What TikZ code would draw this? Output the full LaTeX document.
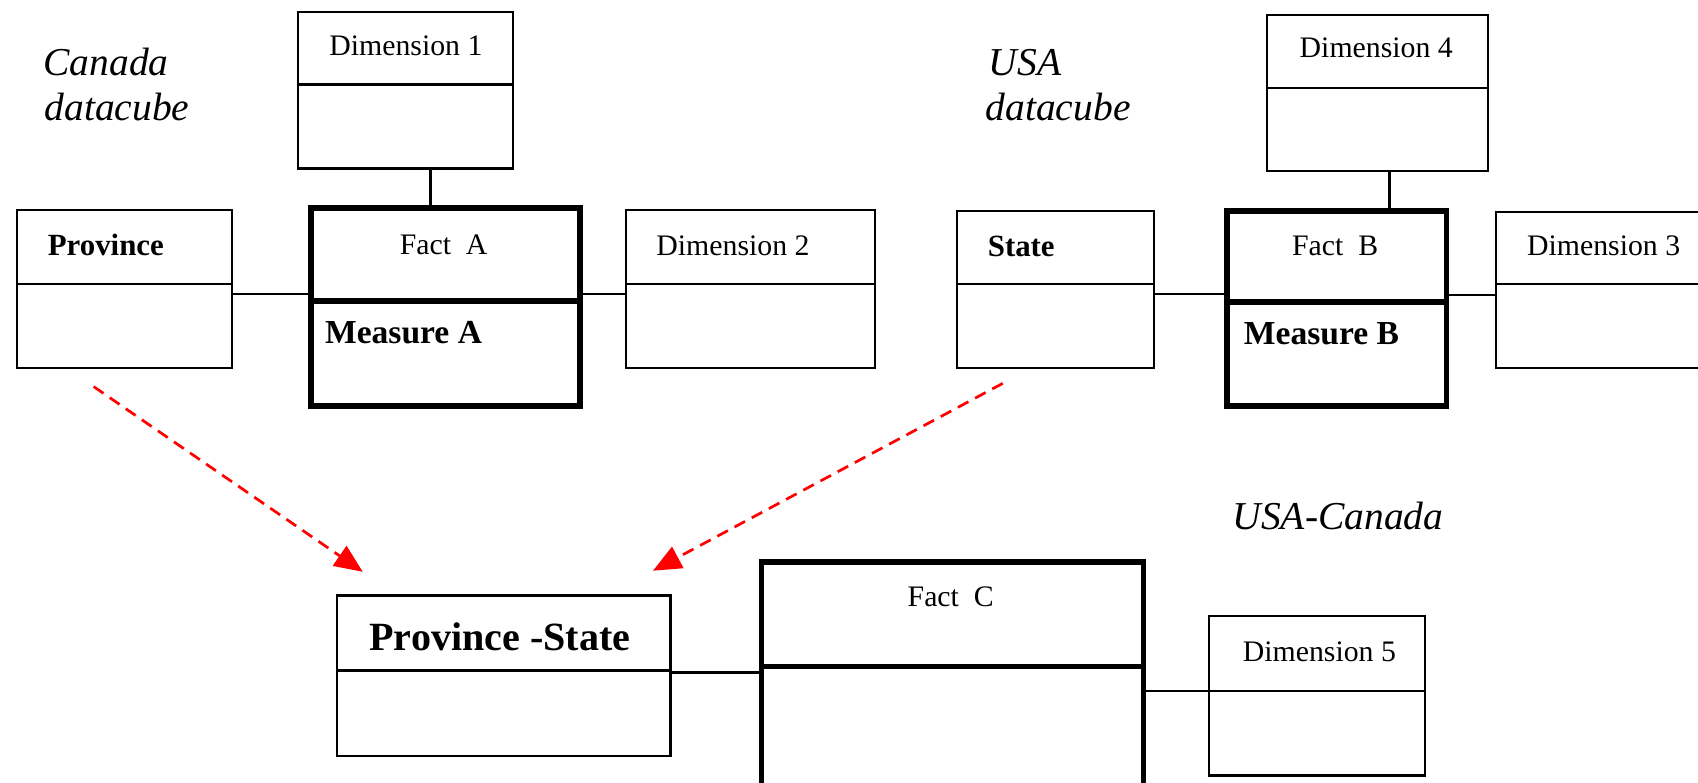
\documentclass[tikz,border=0pt]{standalone}
\usepackage{fontspec}
\setmainfont{Liberation Serif}
\usetikzlibrary{arrows.meta,calc}

\tikzset{
  thinline/.style={line width=2.2pt},
  thickline/.style={line width=5pt},
  tbl/.style={draw, outer sep=0pt, inner sep=0pt},
  lbl/.style={anchor=base west, inner sep=0pt, font=\fontsize{27.5}{33}\selectfont},
  keylbl/.style={anchor=base west, inner sep=0pt, font=\fontsize{28.5}{34}\selectfont\bfseries},
  measurelbl/.style={anchor=base west, inner sep=0pt, font=\fontsize{31}{37}\selectfont\bfseries},
  joinlbl/.style={anchor=base west, inner sep=0pt, font=\fontsize{37}{44}\selectfont\bfseries},
  cubelbl/.style={anchor=base west, inner sep=0pt, font=\fontsize{36.5}{41}\selectfont\itshape},
  link/.style={line width=2.2pt},
  maparrow/.style={red, line width=2.5pt, dash pattern=on 11pt off 7pt,
    -{Triangle[length=26pt,width=22pt]}},
}

% two-compartment table: weight, name, x1, y1, x2, y2, divider y
\newcommand{\tablebox}[7]{%
  \node[tbl, #1, minimum width={(#5-#3)*1pt}, minimum height={(#6-#4)*1pt}]
    (#2) at ({(#3+#5)/2},{(#4+#6)/2}) {};
  \draw[#1] (#2.west |- 0,#7) -- (#2.east |- 0,#7);
}

\begin{document}
\begin{tikzpicture}[x=1pt, y=-1pt]
  \useasboundingbox (0,0) rectangle (1568,723);
  \clip (0,0) rectangle (1568,723);

  % Canada datacube
  \tablebox{thinline}{dimone}{275}{11}{473.5}{155.5}{78}
  \tablebox{thinline}{prov}{15.5}{194}{214.5}{340}{262}
  \tablebox{thickline}{facta}{287}{192}{535.5}{375}{278}
  \tablebox{thinline}{dimtwo}{578}{194}{808}{340}{262}

  % USA datacube
  \tablebox{thinline}{dimfour}{1170}{14}{1374}{158}{81}
  \tablebox{thinline}{state}{884}{195}{1065.5}{340}{262}
  \tablebox{thickline}{factb}{1133}{195}{1336}{375}{279}
  \tablebox{thinline}{dimthree}{1381.5}{195.5}{1600}{340}{262}

  % USA-Canada datacube
  \tablebox{thinline}{ps}{311}{550}{619}{698}{619}
  \tablebox{thickline}{factc}{703}{519}{1056}{745}{615.5}
  \tablebox{thinline}{dimfive}{1116.5}{569}{1316}{716}{638}

  % labels
  \node[cubelbl] (canadaname) at (40,70) {Canada};
  \node[cubelbl] (canadacube) at (41,111) {datacube};
  \node[cubelbl] (usaname) at (913,70) {USA};
  \node[cubelbl] (usacube) at (910,111) {datacube};
  \node[cubelbl] (jointname) at (1138,489) {USA-Canada};

  \node[lbl] (dimonetext) at (304,51) {Dimension 1};
  \node[keylbl] (provtext) at (44,236) {Province};
  \node[lbl] (factatext) at (369,235) {Fact~~A};
  \node[measurelbl] (meastext) at (300,317) {Measure A};
  \node[lbl] (dimtwotext) at (606,236) {Dimension 2};

  \node[lbl] (dimfourtext) at (1200,53) {Dimension 4};
  \node[keylbl] (statetext) at (912,237) {State};
  \node[lbl] (factbtext) at (1193,236) {Fact~~B};
  \node[measurelbl] (measbtext) at (1148.5,318.5) {Measure B};
  \node[lbl] (dimthreetext) at (1410,236) {Dimension 3};

  \node[joinlbl] (pstext) at (341,601) {Province -State};
  \node[lbl] (factctext) at (838,560.5) {Fact~~C};
  \node[lbl] (dimfivetext) at (1147.5,611) {Dimension 5};

  % links between tables
  \draw[link] (dimone.south -| 397.6,0) -- (facta.north -| 397.6,0);
  \draw[link] (prov.east |- 0,271.5) -- (facta.west |- 0,271.5);
  \draw[link] (facta.east |- 0,271.5) -- (dimtwo.west |- 0,271.5);

  \draw[link] (dimfour.south -| 1283,0) -- (factb.north -| 1283,0);
  \draw[link] (state.east |- 0,271.5) -- (factb.west |- 0,271.5);
  \draw[link] (factb.east |- 0,272.5) -- (dimthree.west |- 0,272.5);

  \draw[link] (ps.east |- 0,621) -- (factc.west |- 0,621);
  \draw[link] (factc.east |- 0,638) -- (dimfive.west |- 0,638);

  % mapping of the key dimensions
  \draw[maparrow] ($(prov.south west)+(71,17)$) -- ($(ps.north west)+(24,-22)$);
  \draw[maparrow] ($(state.south west)+(42,14)$) -- ($(ps.north east)+(-16,-23)$);
\end{tikzpicture}
\end{document}
